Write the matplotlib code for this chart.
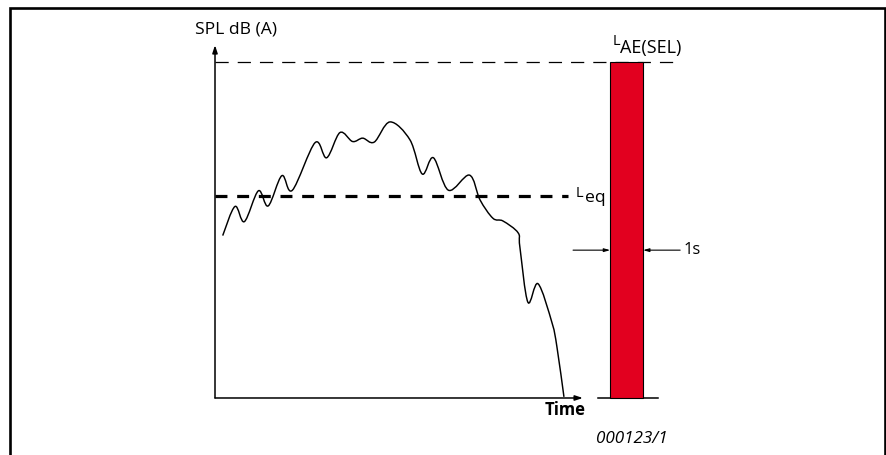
import numpy as np
import matplotlib
matplotlib.use("Agg")
import matplotlib.pyplot as plt
from matplotlib.path import Path
from matplotlib.patches import PathPatch

plt.rcParams['font.family'] = ['Open Sans', 'DejaVu Sans']
plt.rcParams['lines.scale_dashes'] = False

# ---- data (time units, dB(A)) ----
time = [2.2, 5.7, 8.4, 12.4, 15.2, 19.1, 22.1, 28.6, 31.9, 35.7, 39.3, 42.2, 45.5,
        50.0, 55.7, 59.2, 62.4, 66.7, 72.7, 75.7, 79.4, 82.3, 86.6, 87.1, 89.4,
        92.3, 96.3, 97.7, 99.7]
level = [69.0, 74.2, 71.5, 77.0, 74.3, 79.7, 77.1, 85.6, 82.9, 87.4, 85.8, 86.4, 85.7,
         89.3, 86.1, 80.0, 82.9, 77.1, 79.8, 75.4, 72.1, 71.6, 69.5, 67.0, 57.1,
         60.4, 53.4, 49.1, 40.2]
leq = 76.0
sel = 100.0
floor_db = 40.0
bar_center = 117.6
bar_duration = 9.4
time_axis_end = 105.1
db_axis_top = 103.0

fig = plt.figure(figsize=(8.87, 4.55), dpi=100)
ax = fig.add_axes([0, 0, 1, 1])
ax.set_xlim(-61.43, 192.0)
ax.set_ylim(29.82, 111.07)
ax.axis('off')

# frame (open at bottom)
ax.plot([10 / 887, 10 / 887, 885 / 887, 885 / 887], [0, 1 - 7.5 / 455, 1 - 7.5 / 455, 0],
        transform=ax.transAxes, color='black', lw=1.9, solid_joinstyle='miter', clip_on=False)

# axes with arrows
ax.annotate('', xy=(0, db_axis_top), xytext=(0, floor_db),
            arrowprops=dict(arrowstyle='-|>,head_length=0.45,head_width=0.15', lw=1.1,
                            color='black', shrinkA=0, shrinkB=0))
ax.annotate('', xy=(time_axis_end, floor_db), xytext=(0, floor_db),
            arrowprops=dict(arrowstyle='-|>,head_length=0.45,head_width=0.15', lw=1.1,
                            color='black', shrinkA=0, shrinkB=0))

# dashed reference lines
ax.plot([0, 132.9], [sel, sel], color='black', lw=0.9, dashes=(9.5, 6.5))
ax.plot([0, 100.9], [leq, leq], color='black', lw=2.3, dashes=(8.6, 7.0))

# SEL bar
ax.plot([109.4, 126.6], [floor_db, floor_db], color='black', lw=1.1)
ax.bar([bar_center], [sel - floor_db], width=bar_duration, bottom=floor_db,
       color='#E2001F', edgecolor='black', linewidth=0.8, zorder=3)

# 1 s duration arrows
y_arr = 66.4
ax.annotate('', xy=(bar_center - bar_duration / 2, y_arr), xytext=(102.3, y_arr),
            arrowprops=dict(arrowstyle='-|>,head_length=0.35,head_width=0.1', lw=0.8,
                            color='black', shrinkA=0, shrinkB=0))
ax.annotate('', xy=(bar_center + bar_duration / 2, y_arr), xytext=(132.9, y_arr),
            arrowprops=dict(arrowstyle='-|>,head_length=0.35,head_width=0.1', lw=0.8,
                            color='black', shrinkA=0, shrinkB=0))
ax.text(133.9, y_arr, '1s', fontsize=12, va='center', ha='left')

# level-time curve (smooth Bezier through read points)
pts = np.column_stack([time, level])
n = len(pts)
verts = [pts[0]]
codes = [Path.MOVETO]
for i in range(n - 1):
    p0 = pts[max(i - 1, 0)]
    p1 = pts[i]
    p2 = pts[i + 1]
    p3 = pts[min(i + 2, n - 1)]
    verts += [p1 + (p2 - p0) / 6, p2 - (p3 - p1) / 6, p2]
    codes += [Path.CURVE4] * 3
ax.add_patch(PathPatch(Path(verts, codes), facecolor='none', edgecolor='black', lw=1.05))

# texts
ax.text(6.0, 105.8, 'SPL dB (A)', fontsize=12.6, ha='center', va='center')
ax.text(102.9, 75.9, 'L', fontsize=10.5, ha='left', va='baseline')
ax.text(105.6, 75.0, 'eq', fontsize=12.6, ha='left', va='baseline')
ax.text(113.6, 103.0, 'L', fontsize=10.5, ha='left', va='baseline')
ax.text(115.6, 101.6, 'AE(SEL)', fontsize=13, ha='left', va='baseline')
ax.text(100.1, 37.9, 'Time', fontsize=12, fontweight='bold', ha='center', va='center')
ax.text(119.1, 32.7, '000123/1', fontsize=12.3, fontstyle='italic', ha='center', va='center')

fig.savefig('out.png', dpi=100)
